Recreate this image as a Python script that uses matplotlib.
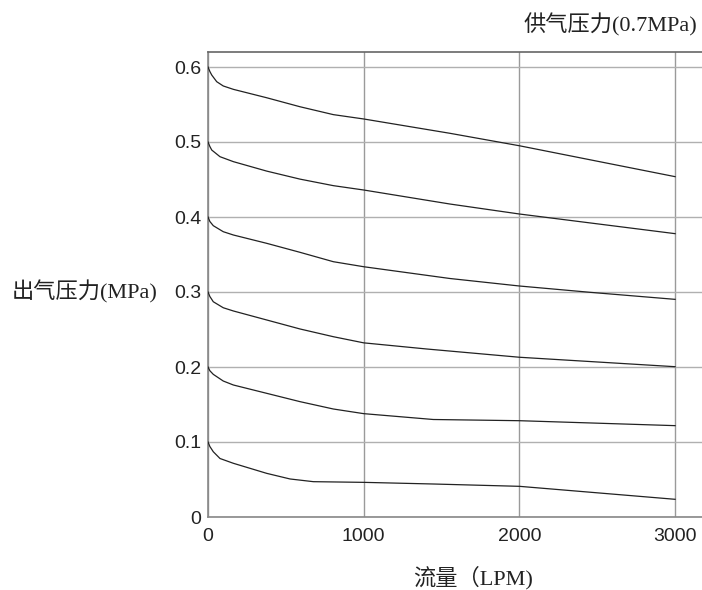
import matplotlib
matplotlib.use("Agg")
import matplotlib.pyplot as plt

# flow (LPM) and outlet pressure (MPa) for each set pressure curve
flow_06 = [0, 12, 24, 56, 98, 163, 377, 591, 805, 1000, 1554, 2000, 3000]
p_06 = [0.600, 0.594, 0.5893, 0.5804, 0.5747, 0.5702, 0.559, 0.547, 0.5365, 0.5307, 0.5116, 0.495, 0.4538]

flow_05 = [0, 12, 24, 77, 163, 377, 591, 805, 1000, 1554, 2000, 3000]
p_05 = [0.500, 0.494, 0.4893, 0.4804, 0.4738, 0.4612, 0.4505, 0.4418, 0.436, 0.4173, 0.404, 0.3778]

flow_04 = [0, 12, 34, 98, 163, 377, 591, 805, 1000, 1554, 2000, 2453, 3000]
p_04 = [0.400, 0.394, 0.3884, 0.3804, 0.376, 0.3649, 0.3529, 0.3404, 0.3337, 0.318, 0.308, 0.2996, 0.2902]

flow_03 = [0, 12, 34, 98, 163, 377, 591, 805, 1000, 1405, 2000, 3000]
p_03 = [0.300, 0.294, 0.287, 0.279, 0.2747, 0.2627, 0.2507, 0.2404, 0.2322, 0.224, 0.213, 0.2004]

flow_02 = [0, 12, 34, 98, 163, 377, 591, 805, 1000, 1447, 2000, 3000]
p_02 = [0.200, 0.195, 0.1902, 0.1813, 0.176, 0.1649, 0.1538, 0.144, 0.1378, 0.130, 0.1284, 0.1218]

flow_01 = [0, 12, 34, 77, 163, 377, 527, 677, 1000, 1447, 2000, 3000]
p_01 = [0.100, 0.094, 0.087, 0.078, 0.0716, 0.0582, 0.0507, 0.0471, 0.0462, 0.044, 0.0409, 0.0236]

x_ticks = [0, 1000, 2000, 3000]
y_ticks = [0, 0.1, 0.2, 0.3, 0.4, 0.5, 0.6]
y_tick_labels = ["0", "0.1", "0.2", "0.3", "0.4", "0.5", "0.6"]

title_text = "供气压力(0.7MPa)"
ylabel_text = "出气压力(MPa)"
xlabel_text = "流量（LPM)"

W, H = 702, 590
fig = plt.figure(figsize=(W / 100, H / 100), dpi=100)
ax = fig.add_axes([208 / W, (H - 517) / H, (W - 208) / W, (517 - 52) / H])

ax.set_xlim(0, 3173)
ax.set_ylim(0, 0.62)

for fx, py in [(flow_06, p_06), (flow_05, p_05), (flow_04, p_04),
               (flow_03, p_03), (flow_02, p_02), (flow_01, p_01)]:
    ax.plot(fx, py, color="#222222", lw=0.9, zorder=3,
            solid_joinstyle="round")

ax.set_xticks(x_ticks)
ax.set_xticklabels([str(v) for v in x_ticks])
ax.set_yticks(y_ticks)
ax.set_yticklabels(y_tick_labels)
ax.tick_params(length=0, labelsize=14, colors="#222222", pad=5)
ax.tick_params(axis="x", pad=8)
for lab in ax.get_xticklabels() + ax.get_yticklabels():
    lab.set_family(["Liberation Sans", "DejaVu Sans"])

ax.grid(True, axis="x", color="#9a9a9a", lw=1.0, zorder=1)
ax.grid(True, axis="y", color="#b0b0b0", lw=1.0, zorder=1)

ax.spines["right"].set_visible(False)
ax.spines["top"].set_color("#666666")
ax.spines["left"].set_color("#888888")
ax.spines["bottom"].set_color("#888888")
for s in ["top", "left", "bottom"]:
    ax.spines[s].set_linewidth(1.2)

fam = ["Liberation Serif", "Noto Sans CJK SC"]
fig.text(697 / W, 1 - 25 / H, title_text, ha="right", va="center",
         fontsize=16, family=fam, color="#222222")
fig.text(12 / W, 1 - 292 / H, ylabel_text, ha="left", va="center",
         fontsize=16, family=fam, color="#222222")
fig.text(473 / W, 1 - 578 / H, xlabel_text, ha="center", va="center",
         fontsize=16, family=fam, color="#222222")

fig.savefig("out.png", dpi=100)
